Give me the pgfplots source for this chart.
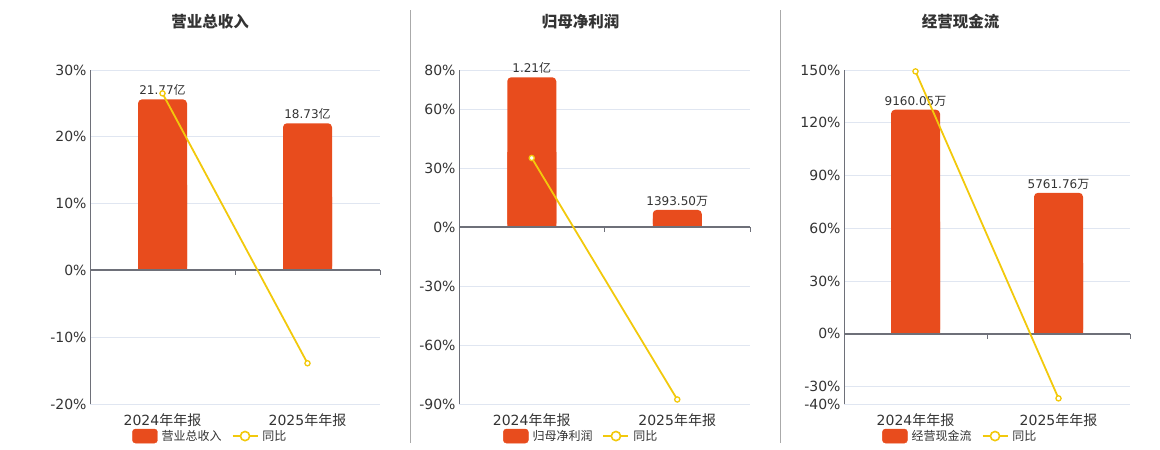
\documentclass[border=0pt]{standalone}
\usepackage{pgfplots}
\pgfplotsset{compat=1.18}
\usepackage{fontspec}
\setmainfont{DejaVu Sans}
\newfontfamily\cjk{Noto Sans CJK SC}
\definecolor{barc}{RGB}{232,76,29}
\definecolor{linec}{RGB}{242,201,12}
\definecolor{axc}{RGB}{110,112,121}
\definecolor{gridc}{RGB}{224,230,241}
\definecolor{txt}{RGB}{51,51,51}
\definecolor{sepc}{RGB}{170,170,170}
\pgfplotsset{
  common/.style={scale only axis, height=334pt, xmin=-0.5, xmax=1.5, clip=false},
  pct/.style={common, xtick={0,1}, ymajorgrids, grid style={gridc, line width=0.8pt},
    major tick length=0pt, axis y line*=left, axis x line*=bottom,
    x axis line style={draw=none}, y axis line style={axc, line width=0.8pt, -},
    tick label style={font=\fontsize{14}{16}\selectfont, text=txt},
    xticklabels={2024{\cjk 年年报},2025{\cjk 年年报}},
    xticklabel style={yshift=-6pt}},
  hid/.style={common, hide axis},
  barA/.style={ybar, bar width=49pt, bar shift=0pt, fill=barc, draw=none, rounded corners=4pt,
    nodes near coords, point meta=explicit symbolic,
    nodes near coords style={font=\fontsize{12}{14}\selectfont, text=txt, anchor=south, yshift=0pt}},
  barB/.style={ybar, bar width=49pt, bar shift=0pt, fill=barc, draw=none, y filter/.expression={y/2}},
  ln/.style={linec, line width=1.8pt, mark=*, mark size=2.6pt,
    mark options={fill=white, draw=linec, line width=1.3pt},
    legend image code/.code={\draw[linec, line width=1.8pt] (0pt,0pt) -- (25pt,0pt);
      \draw[linec, line width=1.6pt, fill=white] (12.5pt,0pt) circle (4.6pt);}},
  barleg/.style={legend image code/.code={\fill[barc, rounded corners=3pt] (0pt,-7pt) rectangle (25pt,7pt);}},
  lg/.style={legend columns=2, legend style={draw=none, fill=none, inner sep=0pt,
    font=\cjk\fontsize{12}{14}\selectfont, text=txt, at={#1}, anchor=west,
    /tikz/every odd column/.append style={column sep=2pt},
    /tikz/every even column/.append style={column sep=8pt}}},
}
\newcommand\zeroline{%
  \draw[axc, line width=2pt] (axis cs:-0.5,0) -- (axis cs:1.5,0);
  \draw[axc, line width=0.8pt] (axis cs:0.5,0) -- ++(0pt,-5pt);
  \draw[axc, line width=0.8pt] (axis cs:1.5,0) -- ++(0pt,-5pt);}
\begin{document}
\begin{tikzpicture}[x=1pt,y=1pt]
\useasboundingbox (0,0) rectangle (1160,450);
\draw[sepc, line width=0.8pt] (410.5,7) -- (410.5,440);
\draw[sepc, line width=0.8pt] (780.5,7) -- (780.5,440);
\node[font=\cjk\bfseries\fontsize{15.5}{17}\selectfont, text=txt] at (210,428) {营业总收入};
\node[font=\cjk\bfseries\fontsize{15.5}{17}\selectfont, text=txt] at (580.5,428) {归母净利润};
\node[font=\cjk\bfseries\fontsize{15.5}{17}\selectfont, text=txt] at (960.5,428) {经营现金流};

% ---------- Panel 1 ----------
\begin{axis}[pct, at={(90pt,46pt)}, anchor=south west, width=290pt,
  ymin=-20, ymax=30, ytick={-20,-10,0,10,20,30},
  yticklabels={-20\%,-10\%,0\%,10\%,20\%,30\%}]
\end{axis}
\begin{axis}[hid, at={(90pt,46pt)}, anchor=south west, width=290pt, ymin=-17.008, ymax=25.512]
\addplot[barA] coordinates {(0,21.77) [{21.77{\cjk 亿}}] (1,18.73) [{18.73{\cjk 亿}}]};
\addplot[barB] coordinates {(0,21.77) (1,18.73)};
\end{axis}
\begin{axis}[hid, at={(90pt,46pt)}, anchor=south west, width=290pt, ymin=-20, ymax=30,
  lg={(axis description cs:0.145,-0.096)}]
\zeroline
\addlegendimage{barleg}
\addlegendentry{营业总收入}
\addplot[ln] coordinates {(0,26.5) (1,-13.9)};
\addlegendentry{同比}
\end{axis}

% ---------- Panel 2 ----------
\begin{axis}[pct, at={(459pt,46pt)}, anchor=south west, width=291pt,
  ymin=-90, ymax=80, ytick={-90,-60,-30,0,30,60,80},
  yticklabels={-90\%,-60\%,-30\%,0\%,30\%,60\%,80\%}]
\end{axis}
\begin{axis}[hid, at={(459pt,46pt)}, anchor=south west, width=291pt, ymin=-14272, ymax=12686]
\addplot[barA] coordinates {(0,12100) [{1.21{\cjk 亿}}] (1,1393.50) [{1393.50{\cjk 万}}]};
\addplot[barB] coordinates {(0,12100) (1,1393.50)};
\end{axis}
\begin{axis}[hid, at={(459pt,46pt)}, anchor=south west, width=291pt, ymin=-90, ymax=80,
  lg={(axis description cs:0.151,-0.096)}]
\zeroline
\addlegendimage{barleg}
\addlegendentry{归母净利润}
\addplot[ln] coordinates {(0,35.2) (1,-87.7)};
\addlegendentry{同比}
\end{axis}

% ---------- Panel 3 ----------
\begin{axis}[pct, at={(844pt,46pt)}, anchor=south west, width=286pt,
  ymin=-40, ymax=150, ytick={-40,-30,0,30,60,90,120,150},
  yticklabels={-40\%,-30\%,0\%,30\%,60\%,90\%,120\%,150\%}]
\end{axis}
\begin{axis}[hid, at={(844pt,46pt)}, anchor=south west, width=286pt, ymin=-2876, ymax=10785]
\addplot[barA] coordinates {(0,9160.05) [{9160.05{\cjk 万}}] (1,5761.76) [{5761.76{\cjk 万}}]};
\addplot[barB] coordinates {(0,9160.05) (1,5761.76)};
\end{axis}
\begin{axis}[hid, at={(844pt,46pt)}, anchor=south west, width=286pt, ymin=-40, ymax=150,
  lg={(axis description cs:0.133,-0.096)}]
\zeroline
\addlegendimage{barleg}
\addlegendentry{经营现金流}
\addplot[ln] coordinates {(0,149.2) (1,-36.8)};
\addlegendentry{同比}
\end{axis}
\end{tikzpicture}
\end{document}
